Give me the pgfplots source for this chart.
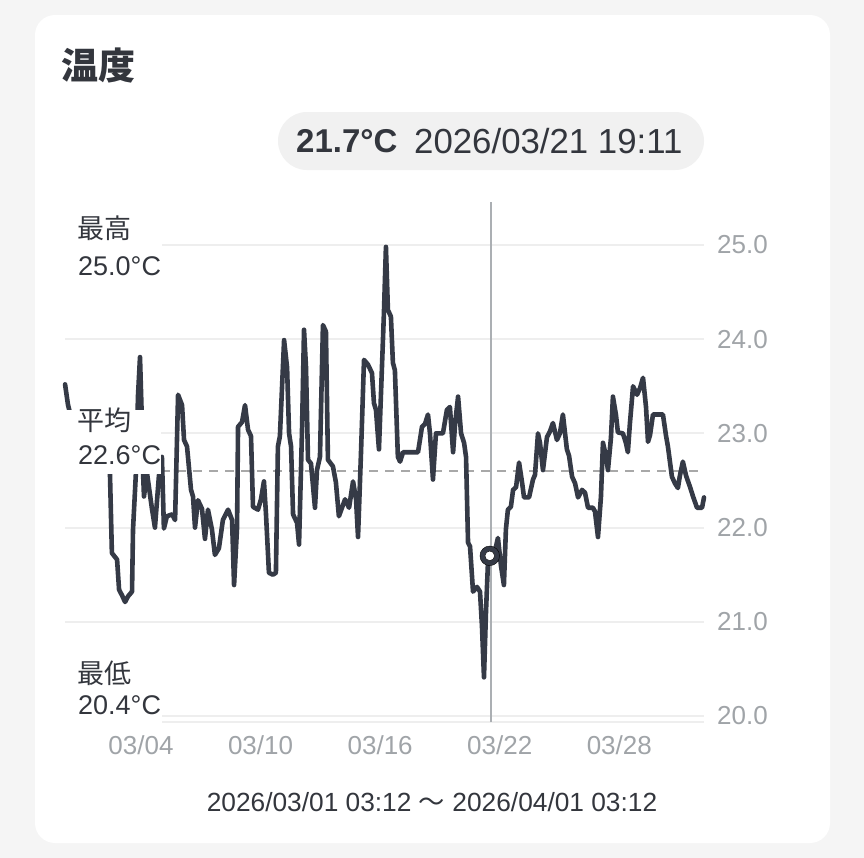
\documentclass[border=0pt]{standalone}
\usepackage{fontspec}
\setmainfont{Liberation Sans}
\newfontfamily\cjk{Noto Sans CJK JP}
\usepackage{pgfplots}
\pgfplotsset{compat=1.18}

\definecolor{bgc}{HTML}{F5F5F5}
\definecolor{linec}{HTML}{353A46}
\definecolor{txt}{HTML}{33363D}
\definecolor{tickc}{HTML}{A0A4A8}
\definecolor{gridc}{HTML}{EEEEEE}
\definecolor{avgc}{HTML}{A8A8A8}
\definecolor{curc}{HTML}{ABAFB3}
\definecolor{pillc}{HTML}{F1F1F1}

\begin{document}
\begin{tikzpicture}
\useasboundingbox (0,0) rectangle (864bp,-858bp);
\fill[bgc] (0,0) rectangle (864bp,-858bp);

\begin{scope}[x=1bp,y=-1bp]
  \fill[white, rounded corners=20bp] (35,15) rectangle (830,843);
  % title
  \node[anchor=west, inner sep=0pt, text=txt, font=\fontsize{37bp}{40bp}\selectfont\cjk\bfseries] at (61,66) {温度};
  % tooltip pill
  \fill[pillc, rounded corners=29bp] (278,112) rectangle (704,170);
  \node[anchor=west, inner sep=0pt, text=txt, font=\fontsize{33bp}{36bp}\selectfont\bfseries] at (296,141) {21.7°C};
  \node[anchor=west, inner sep=0pt, text=txt, font=\fontsize{34.8bp}{38bp}\selectfont] at (414,141) {2026/03/21 19:11};
\end{scope}

\begin{axis}[
    at={(65bp,-722bp)}, anchor=south west,
    scale only axis,
    width=639bp, height=520bp,
    xmin=0.187, xmax=32.25,
    ymin=19.936, ymax=25.456,
    axis line style={draw=none},
    major tick length=0pt,
    xtick={4,10,16,22,28},
    xticklabels={03/04,03/10,03/16,03/22,03/28},
    ytick={20,21,22,23,24,25},
    yticklabel pos=right,
    ymajorgrids,
    grid style={gridc, line width=2bp},
    /pgf/number format/assume math mode=true,
    /pgf/number format/.cd, fixed, fixed zerofill, precision=1,
    /pgfplots/.cd,
    ticklabel style={font=\fontsize{26bp}{30bp}\selectfont, text=tickc},
    yticklabel style={anchor=west, inner sep=0pt, xshift=13bp},
    xticklabel style={anchor=north, inner sep=0pt, yshift=-13bp},
    clip=false,
]
\draw[gridc, line width=2bp] (rel axis cs:0,0) -- (rel axis cs:1,0);
% average
\addplot[avgc, line width=1.6bp, dash pattern=on 9bp off 7bp] coordinates {(0.187,22.6) (32.25,22.6)};
% cursor
\draw[curc, line width=2bp] (axis cs:21.56,19.936) -- (axis cs:21.56,25.456);
% temperature
\addplot[linec, line width=4.6bp, line join=round, line cap=round] coordinates {
(0.19,23.52) (0.34,23.3) (0.69,23.0) (1.04,22.8) (1.44,22.62) (1.94,22.75) (2.24,22.85) (2.44,22.6)
(2.54,21.73) (2.80,21.66) (2.90,21.34) (3.05,21.28) (3.20,21.21) (3.35,21.27) (3.55,21.32) (3.60,21.98)
(3.75,22.6) (3.85,23.4) (3.95,23.81) (4.05,23.1) (4.10,22.6) (4.15,22.33) (4.30,22.58) (4.55,22.2)
(4.70,22.0) (4.90,22.55) (5.05,22.75) (5.15,21.99) (5.30,22.12) (5.56,22.14) (5.71,22.08) (5.86,23.41)
(6.06,23.3) (6.16,22.93) (6.31,22.86) (6.51,22.4) (6.61,22.33) (6.71,22.0) (6.86,22.29) (7.06,22.2)
(7.21,21.88) (7.36,22.19) (7.56,21.98) (7.71,21.71) (7.91,21.78) (8.11,22.08) (8.37,22.19) (8.57,22.08)
(8.67,21.39) (8.82,22.0) (8.87,23.07) (9.07,23.12) (9.22,23.3) (9.37,23.04) (9.52,22.97) (9.62,22.22)
(9.87,22.19) (10.02,22.3) (10.17,22.49) (10.27,22.15) (10.42,21.52) (10.62,21.5) (10.77,21.52) (10.87,22.86)
(10.97,22.97) (11.18,23.99) (11.33,23.7) (11.43,23.0) (11.53,22.86) (11.63,22.14) (11.83,22.05) (11.93,21.82)
(12.08,23.04) (12.18,24.1) (12.28,23.7) (12.38,22.72) (12.53,22.68) (12.73,22.21) (12.83,22.61) (12.98,22.75)
(13.13,24.15) (13.28,24.08) (13.38,22.72) (13.63,22.65) (13.78,22.48) (13.93,22.12) (14.24,22.3) (14.44,22.21)
(14.64,22.49) (14.79,22.3) (14.89,21.9) (15.04,22.8) (15.19,23.78) (15.39,23.73) (15.59,23.64) (15.69,23.32)
(15.79,23.25) (15.94,22.83) (16.09,23.7) (16.19,24.28) (16.29,24.98) (16.39,24.31) (16.54,24.24) (16.64,23.75)
(16.74,23.67) (16.89,22.75) (17.00,22.7) (17.15,22.8) (17.90,22.8) (18.10,23.07) (18.25,23.1) (18.40,23.2)
(18.50,23.0) (18.65,22.51) (18.80,23.0) (19.15,23.0) (19.35,23.25) (19.50,23.28) (19.66,22.8) (19.76,23.1)
(19.91,23.39) (20.06,23.0) (20.21,22.9) (20.31,22.75) (20.41,21.84) (20.51,21.8) (20.66,21.32) (20.86,21.37)
(21.01,21.32) (21.11,20.95) (21.21,20.41) (21.31,21.1) (21.41,21.63) (21.56,21.7) (21.76,21.75) (21.91,21.89)
(22.06,21.6) (22.21,21.39) (22.31,21.98) (22.41,22.19) (22.56,22.22) (22.67,22.4) (22.82,22.43) (22.97,22.69)
(23.12,22.48) (23.22,22.32) (23.47,22.32) (23.67,22.51) (23.77,22.56) (23.92,23.0) (24.02,22.9) (24.17,22.61)
(24.37,22.96) (24.52,23.02) (24.67,23.11) (24.87,22.93) (25.02,23.0) (25.17,23.2) (25.37,22.83) (25.48,22.76)
(25.63,22.54) (25.78,22.47) (25.93,22.32) (26.13,22.4) (26.28,22.37) (26.43,22.21) (26.68,22.21) (26.78,22.17)
(26.93,21.9) (27.08,22.33) (27.18,22.9) (27.33,22.76) (27.43,22.61) (27.58,22.95) (27.68,23.39) (27.83,23.2)
(27.93,23.01) (28.18,23.0) (28.33,22.9) (28.43,22.8) (28.53,23.1) (28.69,23.5) (28.89,23.41) (29.04,23.48)
(29.19,23.59) (29.34,23.28) (29.44,22.91) (29.54,22.98) (29.69,23.2) (30.19,23.2) (30.34,22.98) (30.44,22.86)
(30.64,22.54) (30.79,22.47) (30.94,22.42) (31.04,22.55) (31.19,22.7) (31.35,22.55) (31.55,22.43) (31.70,22.33)
(31.90,22.21) (32.15,22.21) (32.25,22.32)
};
% selected point: dark ring with white centre
\addplot[only marks, mark=*, mark size=9.8bp, mark options={fill=linec, draw=none}] coordinates {(21.5,21.7)};
\addplot[only marks, mark=*, mark size=4.8bp, mark options={fill=white, draw=none}] coordinates {(21.5,21.7)};
\end{axis}

\begin{scope}[x=1bp,y=-1bp]
  % label backgrounds
  \fill[white] (64,210) rectangle (162,282);
  \fill[white] (64,410) rectangle (161,474);
  \fill[white] (64,656) rectangle (162,724);
  \tikzset{lab/.style={anchor=west, inner sep=0pt, text=txt, font=\fontsize{27bp}{30bp}\selectfont}}
  \node[lab, font=\fontsize{27bp}{30bp}\selectfont\cjk] at (77,228) {最高};
  \node[lab] at (78,266) {25.0°C};
  \node[lab, font=\fontsize{27bp}{30bp}\selectfont\cjk] at (77,420) {平均};
  \node[lab] at (78,455) {22.6°C};
  \node[lab, font=\fontsize{27bp}{30bp}\selectfont\cjk] at (77,673) {最低};
  \node[lab] at (78,705) {20.4°C};
  % period
  \node[inner sep=0pt, text=txt, font=\fontsize{26.3bp}{29bp}\selectfont] at (432,802) {2026/03/01 03:12 {\cjk 〜} 2026/04/01 03:12};
\end{scope}
\end{tikzpicture}
\end{document}
